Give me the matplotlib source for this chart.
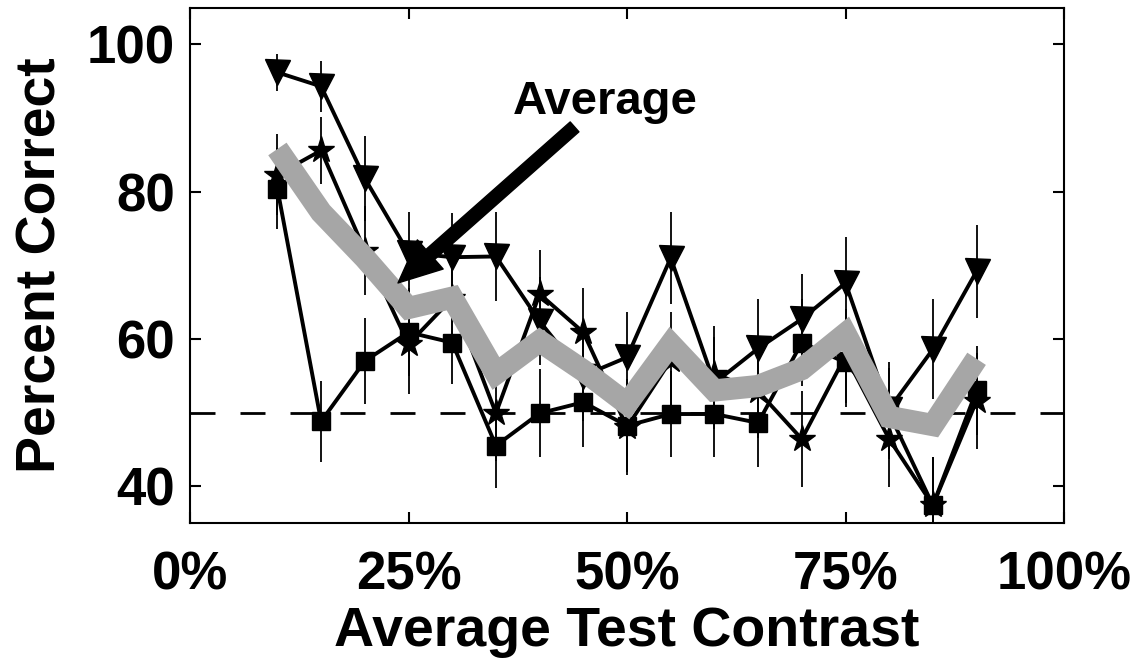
import numpy as np
import matplotlib
matplotlib.use('Agg')
import matplotlib.pyplot as plt

plt.rcParams['font.family'] = ['Liberation Sans', 'DejaVu Sans']
plt.rcParams['font.weight'] = 'bold'

## test contrast levels (fraction)
contrast = [0.10, 0.15, 0.20, 0.25, 0.30, 0.35, 0.40, 0.45, 0.50,
            0.55, 0.60, 0.65, 0.70, 0.75, 0.80, 0.85, 0.90]

# percent correct per observer, with error bars
tri_pc = [96.2, 94.3, 81.8, 71.7, 71.1, 71.2, 62.4, 55.0, 57.5,
          71.0, 54.0, 58.7, 62.7, 67.6, 50.5, 58.6, 69.2]
tri_err = [2.5, 3.5, 5.8, 5.6, 6.0, 6.0, 6.0, 6.2, 6.1,
           6.3, 6.2, 6.7, 6.1, 6.3, 6.4, 6.8, 6.3]

star_pc = [82.3, 85.6, 72.0, 59.3, 65.5, 49.9, 66.1, 60.9, 48.0,
           57.1, 55.3, 52.9, 46.4, 57.7, 46.4, 37.4, 51.6]
star_err = [5.5, 4.6, 6.0, 6.8, 6.2, 6.5, 6.0, 6.0, 6.5,
            6.5, 6.5, 6.4, 6.5, 6.4, 6.5, 6.5, 6.5]

sq_pc = [80.4, 48.8, 57.0, 60.9, 59.5, 45.5, 49.9, 51.4, 48.2,
         49.8, 49.8, 48.6, 59.5, 56.8, 49.9, 37.4, 53.0]
sq_err = [5.5, 5.5, 5.8, 6.0, 5.6, 5.7, 6.0, 6.1, 6.3,
          5.8, 5.8, 6.0, 5.9, 6.0, 6.2, 6.5, 6.0]

# average across observers (grey line)
avg_pc = [85.8, 77.2, 71.0, 64.2, 65.6, 55.3, 59.7, 55.7, 51.2,
          59.3, 53.0, 53.6, 55.9, 60.7, 49.4, 48.3, 57.3]

chance = 50

xticks = [0, 0.25, 0.5, 0.75, 1.0]
xticklabels = ['0%', '25%', '50%', '75%', '100%']
yticks = [40, 60, 80, 100]

fig = plt.figure(figsize=(11.33, 6.62), dpi=100)
ax = fig.add_axes([0.1677, 0.21, 0.7714, 0.7785])

ax.axhline(chance, color='black', lw=2, dashes=(9, 9), zorder=1)

for pc, err, mk, ms in [(tri_pc, tri_err, 'v', 18),
                        (star_pc, star_err, '*', 20),
                        (sq_pc, sq_err, 's', 13)]:
    ax.errorbar(contrast, pc, yerr=err, fmt='none', ecolor='black',
                elinewidth=1.3, capsize=0, zorder=2)
    ax.plot(contrast, pc, color='black', lw=2.8, marker=mk, markersize=ms,
            markerfacecolor='black', markeredgecolor='black', zorder=3)

ax.plot(contrast, avg_pc, color='#a6a6a6', lw=16, solid_joinstyle='miter',
        solid_capstyle='butt', zorder=4)

# label and arrow pointing at the average line
ax.text(0.475, 92.2, 'Average', ha='center', va='center', fontsize=34,
        fontweight='bold', zorder=6)
ax.annotate('', xy=(0.238, 67.6), xytext=(0.44, 88.8),
            arrowprops=dict(facecolor='black', edgecolor='black', width=9.5,
                            headwidth=28, headlength=31, shrink=0.0),
            zorder=6)

ax.set_xlim(0, 1)
ax.set_ylim(35, 105)
ax.set_xticks(xticks)
ax.set_xticklabels(xticklabels)
ax.set_yticks(yticks)
ax.tick_params(direction='in', length=8, width=1.5, top=True, right=True,
               labelsize=38, pad=20)
ax.tick_params(axis='y', pad=11)
for s in ax.spines.values():
    s.set_linewidth(1.5)

ax.set_xlabel('Average Test Contrast', fontsize=40, fontweight='bold', labelpad=4)
ax.set_ylabel('Percent Correct', fontsize=40, fontweight='bold', labelpad=14)

fig.savefig('out.png', dpi=100)
